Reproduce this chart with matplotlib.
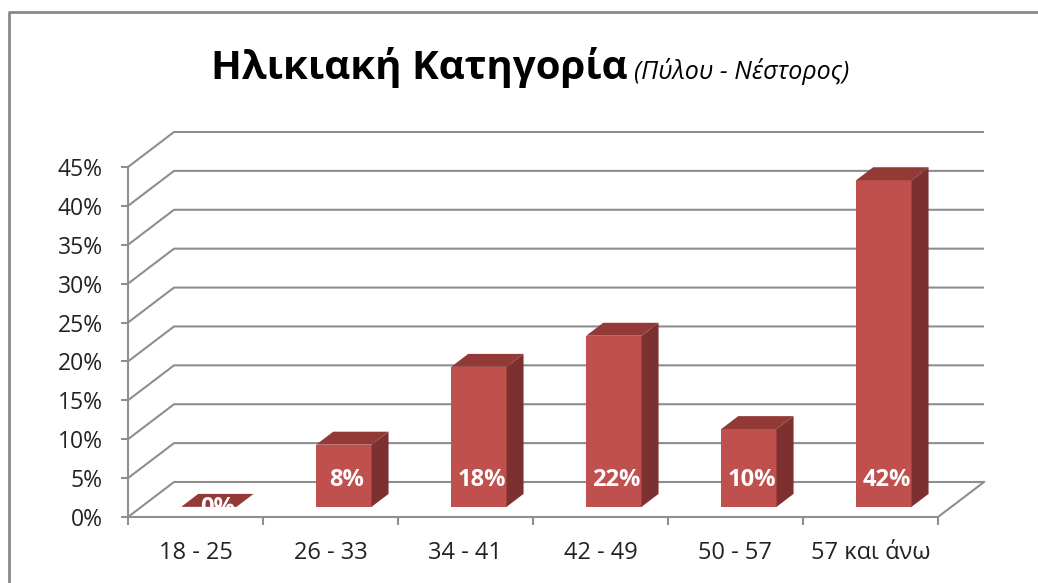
import matplotlib.pyplot as plt
from matplotlib.patches import Polygon
from matplotlib.lines import Line2D

plt.rcParams['font.family'] = ['Open Sans', 'DejaVu Sans']

# Data
categories = ['18 - 25', '26 - 33', '34 - 41', '42 - 49', '50 - 57', '57 και άνω']
values = [0, 8, 18, 22, 10, 42]
yticks = [0, 5, 10, 15, 20, 25, 30, 35, 40, 45]

# 3D look: floor depth offset (in data units) and where bars sit in depth
DX, DY = 0.341, 4.5
F1, F2 = 0.29, 0.66
BAR_W = 0.41
FRONT = '#C0504D'
SIDE = '#7D3030'
TOP = '#933A37'
GRID = '#8E8E8E'

fig = plt.figure(figsize=(10.38, 5.83), dpi=100)
ax = fig.add_axes([128 / 1038, 66 / 583, 810 / 1038, 350 / 583])
ax.set_xlim(0, len(categories))
ax.set_ylim(0, 45)

# back wall grid lines + floor
for t in yticks:
    ax.plot([0, DX, len(categories) + DX], [t, t + DY, t + DY],
            color=GRID, lw=1.5, clip_on=False, zorder=1, solid_capstyle='butt')
ax.plot([len(categories), len(categories) + DX], [0, DY],
        color=GRID, lw=1.5, clip_on=False, zorder=1)

# bars
ddx, ddy = (F2 - F1) * DX, (F2 - F1) * DY
for i, v in enumerate(values):
    xl = i + 0.5 - BAR_W / 2 + F1 * DX
    xr = xl + BAR_W
    b = F1 * DY
    front = Polygon([(xl, b), (xr, b), (xr, b + v), (xl, b + v)],
                    closed=True, fc=FRONT, ec='none', zorder=3, clip_on=False)
    side = Polygon([(xr, b), (xr + ddx, b + ddy), (xr + ddx, b + v + ddy), (xr, b + v)],
                   closed=True, fc=SIDE, ec='none', zorder=3, clip_on=False)
    top = Polygon([(xl, b + v), (xr, b + v), (xr + ddx, b + v + ddy), (xl + ddx, b + v + ddy)],
                  closed=True, fc=TOP, ec='none', zorder=3, clip_on=False)
    for p in (front, side, top):
        ax.add_patch(p)
    if v > 0:
        ax.text((xl + xr) / 2 + 0.02, b + 3.45, '%d%%' % v, color='white', fontsize=17,
                fontweight='bold', ha='center', va='center', zorder=4)
    else:
        txt = ax.text(xl + BAR_W / 2 + ddx / 2, b - 0.1, '%d%%' % v, color='white',
                      fontsize=17, fontweight='bold', ha='center', va='center', zorder=4)
        txt.set_clip_path(top)

# axes styling
for s in ['top', 'right']:
    ax.spines[s].set_visible(False)
for s in ['left', 'bottom']:
    ax.spines[s].set_color(GRID)
    ax.spines[s].set_linewidth(1.5)
    ax.spines[s].set_zorder(2)

ax.set_yticks(yticks)
ax.set_yticklabels(['%d%%' % t for t in yticks])
ax.set_xticks(range(len(categories) + 1))
ax.set_xticklabels([])
ax.set_xticks([i + 0.5 for i in range(len(categories))], minor=True)
ax.set_xticklabels(categories, minor=True)
ax.tick_params(axis='y', length=5, width=1.5, color=GRID, pad=13,
               labelsize=16.5, labelcolor='#222222')
ax.tick_params(axis='x', which='major', length=6, width=1.5, color=GRID)
ax.tick_params(axis='x', which='minor', length=0, pad=17,
               labelsize=17, labelcolor='#222222')
ax.patch.set_visible(False)

# title
renderer = fig.canvas.get_renderer()
t1 = fig.text(0, 1 - 79 / 583, 'Ηλικιακή Κατηγορία', fontsize=29, fontweight='bold',
              ha='left', va='baseline', color='black')
t2 = fig.text(0, 1 - 79 / 583, '(Πύλου - Νέστορος)', fontsize=18, fontstyle='italic',
              ha='left', va='baseline', color='black')
w1 = t1.get_window_extent(renderer).width
w2 = t2.get_window_extent(renderer).width
gap = 7
start = 530 - (w1 + gap + w2) / 2
t1.set_x(start / 1038)
t2.set_x((start + w1 + gap) / 1038)

# chart border (top and left edges visible)
fig.add_artist(Line2D([9 / 1038, 9 / 1038, 1], [0, 1 - 12 / 583, 1 - 12 / 583],
                      transform=fig.transFigure, color='#888888', lw=2))

fig.savefig('out.png', dpi=100)
